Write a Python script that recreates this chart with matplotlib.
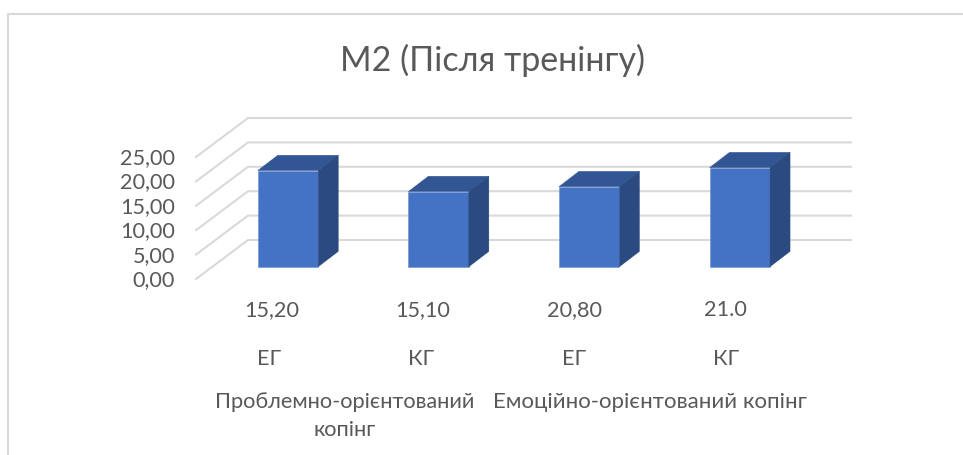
import matplotlib
matplotlib.use('Agg')
import matplotlib.pyplot as plt

plt.rcParams['font.family'] = ['Lato', 'Open Sans', 'DejaVu Sans']

title = 'М2 (Після тренінгу)'
groups = ['ЕГ', 'КГ', 'ЕГ', 'КГ']
data_labels = ['15,20', '15,10', '20,80', '21.0']
bar_values = [19.7, 15.4, 16.4, 20.3]  # read from bar heights, not from the labels
y_ticks = [0, 5, 10, 15, 20, 25]
y_tick_labels = ['0,00', '5,00', '10,00', '15,00', '20,00', '25,00']
coping = ['Проблемно-орієнтований\nкопінг', 'Емоційно-орієнтований копінг']

# pixel layout of the picture
W, H = 963, 455
X0, X_STEP = 288.0, 150.6   # centre of first bar, distance between bars
BASE, Y_UNIT = 266.7, 4.88  # y of bar foot, pixels per value unit
BAR_W = 60.5 / X_STEP
DEPTH_X, DEPTH_Y = 20 / X_STEP, 15.3 / Y_UNIT

fig = plt.figure(figsize=(W / 100, H / 100), dpi=100)
ax = fig.add_axes([0, 0, 1, 1])
ax.set_xlim(-X0 / X_STEP, (W - X0) / X_STEP)
ax.set_ylim(-(H - BASE) / Y_UNIT, BASE / Y_UNIT)
ax.axis('off')


def px(x):
    return (x - X0) / X_STEP


def py(y):
    return (BASE - y) / Y_UNIT


# chart frame
ax.plot([px(8), px(8), px(963)], [py(455), py(14), py(14)], color='#d9d9d9', lw=1.5, zorder=1)

# gridlines: oblique part on the floor side, then along the back wall
front_shift = py(279)
back_shift = py(240)
for v in y_ticks:
    ax.plot([px(196), px(248), px(851)],
            [v + front_shift, v + back_shift, v + back_shift],
            color='#d9d9d9', lw=1.5, zorder=1, solid_joinstyle='miter')

for i, v in enumerate(bar_values):
    l, r = i - BAR_W / 2, i + BAR_W / 2
    ax.fill([l, r, r, l], [0, 0, v, v], color='#4472c4', ec='#6f91d0', lw=0.4, zorder=3)
    ax.fill([l, r, r + DEPTH_X, l + DEPTH_X], [v, v, v + DEPTH_Y, v + DEPTH_Y],
            color='#325594', ec='#325594', lw=0.3, zorder=3)
    ax.fill([r, r + DEPTH_X, r + DEPTH_X, r], [0, DEPTH_Y, v + DEPTH_Y, v],
            color='#2a4a80', ec='#2a4a80', lw=0.3, zorder=3)

txt = '#595959'
ax.text(px(492.5), py(60), title, fontsize=24.5, color=txt, ha='center', va='center')

for v, lab in zip(y_ticks, y_tick_labels):
    ax.text(px(175), v + py(280), lab, fontsize=15.6, color=txt, ha='right', va='center')

for i, (lab, g) in enumerate(zip(data_labels, groups)):
    ax.text(px(272 + 151 * i), py(310), lab, fontsize=15.6, color=txt, ha='center', va='center')
    ax.text(px(269 + 152.4 * i), py(359), g, fontsize=15.6, color=txt, ha='center', va='center')

ax.text(px(344.5), py(416), coping[0], fontsize=15.7, color=txt, ha='center', va='center',
        linespacing=1.55, multialignment='center')
ax.text(px(650), py(402), coping[1], fontsize=16, color=txt, ha='center', va='center')

fig.savefig('out.png', dpi=100)
